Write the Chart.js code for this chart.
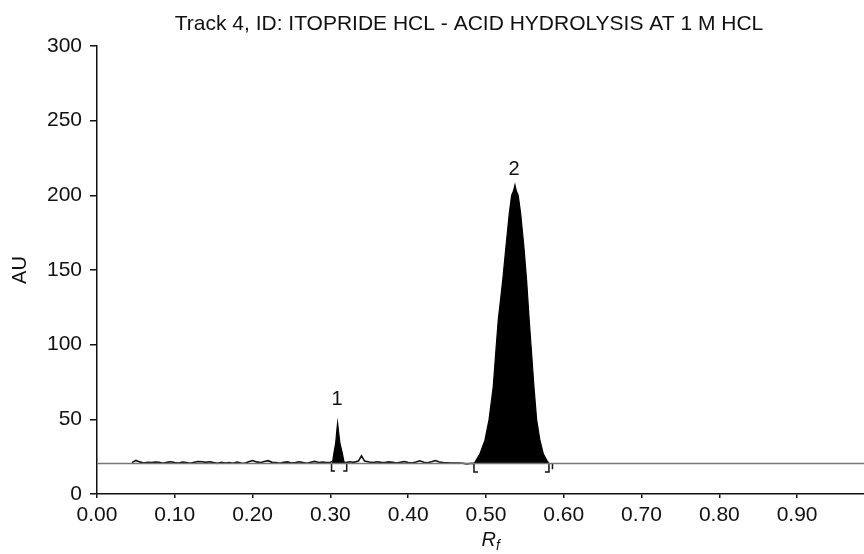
<!DOCTYPE html>
<html>
<head>
<meta charset="utf-8">
<script src="https://cdn.jsdelivr.net/npm/chart.js@4.4.0/dist/chart.umd.min.js"></script>
<style>
    html, body { margin: 0; padding: 0; background: #fff; }
    #wrap { width: 864px; height: 554px; }
</style>
</head>
<body>
<div id="wrap"><canvas id="Graph" width="864" height="554"></canvas></div>
<script>
const chartTitle = 'Track 4, ID: ITOPRIDE HCL - ACID HYDROLYSIS AT 1 M HCL';
const yTicks = [0, 50, 100, 150, 200, 250, 300];
const xTicks = [0.00, 0.10, 0.20, 0.30, 0.40, 0.50, 0.60, 0.70, 0.80, 0.90];

// flat baseline
const baseRf = [0, 0.986];
const baseAU = [20.5, 20.5];

// noisy trace before peak 1
const traceARf = [0.045, 0.050, 0.055, 0.060, 0.065, 0.070, 0.075, 0.080, 0.085, 0.090, 0.095, 0.100, 0.105, 0.110, 0.115, 0.120, 0.125, 0.130, 0.135, 0.140, 0.145, 0.150, 0.155, 0.160, 0.165, 0.170, 0.175, 0.180, 0.185, 0.190, 0.195, 0.200, 0.205, 0.210, 0.215, 0.220, 0.225, 0.230, 0.235, 0.240, 0.245, 0.250, 0.255, 0.260, 0.265, 0.270, 0.275, 0.280, 0.285, 0.290, 0.295, 0.300, 0.303];
const traceAAU = [21.0, 22.5, 21.5, 20.8, 21.3, 21.0, 21.4, 21.2, 20.6, 21.2, 21.6, 21.0, 20.7, 21.4, 21.0, 20.6, 21.3, 21.8, 21.6, 21.2, 21.6, 21.0, 20.5, 21.2, 20.8, 21.0, 20.6, 21.4, 20.8, 20.6, 21.6, 22.4, 21.5, 21.0, 21.8, 22.3, 21.2, 21.0, 20.6, 21.2, 21.5, 20.8, 21.0, 21.6, 21.0, 20.6, 21.2, 21.8, 21.1, 21.4, 21.0, 21.3, 21.9];

// peak 1
const peak1Rf = [0.3025, 0.303, 0.3046, 0.3068, 0.3082, 0.3093, 0.3105, 0.3123, 0.3153, 0.3175];
const peak1AU = [20.5, 21.9, 27.5, 34, 42, 47.5, 42, 34, 27.5, 21.5];

// noisy trace between the peaks
const traceBRf = [0.3175, 0.320, 0.325, 0.330, 0.336, 0.340, 0.344, 0.350, 0.355, 0.360, 0.365, 0.370, 0.375, 0.380, 0.385, 0.390, 0.395, 0.400, 0.405, 0.410, 0.415, 0.420, 0.425, 0.430, 0.435, 0.440, 0.445, 0.450, 0.455, 0.460, 0.465, 0.470, 0.475, 0.480, 0.485];
const traceBAU = [21.5, 21.0, 21.6, 21.2, 22.0, 25.5, 22.0, 21.4, 21.0, 21.6, 21.2, 21.0, 21.5, 21.3, 20.8, 21.3, 21.7, 21.0, 20.7, 21.4, 22.2, 21.2, 20.9, 21.6, 22.4, 21.4, 21.0, 20.9, 20.8, 20.8, 20.7, 20.6, 20.2, 20.4, 20.5];

// peak 2
const peak2Rf = [0.485, 0.4923, 0.4987, 0.5039, 0.5094, 0.5125, 0.5158, 0.5215, 0.5257, 0.530, 0.533, 0.5355, 0.5373, 0.539, 0.5415, 0.5446, 0.5488, 0.5523, 0.5556, 0.5587, 0.5617, 0.5652, 0.5694, 0.5737, 0.5793, 0.581];
const peak2AU = [20.5, 27, 36, 49.6, 72, 94, 116.5, 143, 165.6, 188, 200, 203, 207, 203, 200, 188, 165.6, 143, 116.5, 94, 72, 49.6, 36, 27, 21.6, 20.5];

// integration brackets
const bracketRf = [0.3015, 0.3015, 0.306, null, 0.3165, 0.321, 0.321, null, 0.4846, 0.4846, 0.4897, null, 0.5758, 0.581, 0.581, null, 0.5855, 0.5855];
const bracketAU = [20.5, 15.4, 15.4, null, 15.4, 15.4, 20.5, null, 20.5, 14.7, 14.7, null, 14.7, 14.7, 20.5, null, 20.5, 16.5];

const peakLabels = ['1', '2'];
const peakLabelRf = [0.3085, 0.536];
const peakLabelAU = [63.6, 217];

function toPoints(xs, ys) {
    return xs.map((x, i) => ({ x: x, y: ys[i] }));
}

const FONT = "'Liberation Sans', Arial, sans-serif";

const extraText = {
    id: 'extraText',
    afterDraw(chart) {
        const ctx = chart.ctx;
        const xs = chart.scales.x;
        const ys = chart.scales.y;
        ctx.save();
        ctx.fillStyle = '#111';
        ctx.textBaseline = 'middle';
        ctx.textAlign = 'center';
        ctx.font = '21px ' + FONT;
        ctx.fillText(chartTitle, 469, 24);

        ctx.font = '20px ' + FONT;
        peakLabels.forEach((lbl, i) => {
            ctx.fillText(lbl, xs.getPixelForValue(peakLabelRf[i]), ys.getPixelForValue(peakLabelAU[i]));
        });

        ctx.textAlign = 'right';
        ctx.font = 'italic 20px ' + FONT;
        ctx.fillText('R', 496, 540);
        ctx.textAlign = 'left';
        ctx.font = 'italic 14px ' + FONT;
        ctx.fillText('f', 496, 546);
        ctx.restore();
    }
};

const ctx = document.getElementById('Graph').getContext('2d');

new Chart(ctx, {
    type: 'line',
    data: {
        datasets: [
            { data: toPoints(baseRf, baseAU), borderColor: '#777', borderWidth: 1.5, pointRadius: 0, fill: false },
            { data: toPoints(traceARf, traceAAU), borderColor: '#111', borderWidth: 1.6, pointRadius: 0, fill: false },
            { data: toPoints(traceBRf, traceBAU), borderColor: '#111', borderWidth: 1.6, pointRadius: 0, fill: false },
            { data: toPoints(peak1Rf, peak1AU), borderColor: '#000', backgroundColor: '#000', borderWidth: 1.2, pointRadius: 0, fill: { value: 20.5 } },
            { data: toPoints(peak2Rf, peak2AU), borderColor: '#000', backgroundColor: '#000', borderWidth: 1.2, pointRadius: 0, fill: { value: 20.5 } },
            { data: toPoints(bracketRf, bracketAU), borderColor: '#111', borderWidth: 1.5, pointRadius: 0, fill: false, spanGaps: false }
        ]
    },
    options: {
        responsive: false,
        animation: false,
        layout: { padding: { top: 46, right: 0, left: 0, bottom: 0 } },
        plugins: {
            legend: { display: false },
            tooltip: { enabled: false }
        },
        scales: {
            x: {
                type: 'linear',
                min: 0,
                max: 0.986,
                afterBuildTicks: scale => { scale.ticks = xTicks.map(v => ({ value: v })); },
                afterFit: scale => { scale.height = 60; },
                border: { display: true, color: '#111', width: 1.5 },
                grid: { display: true, drawOnChartArea: false, drawTicks: true, tickLength: 4, color: '#111', lineWidth: 1.5 },
                ticks: {
                    padding: 5,
                    color: '#111',
                    font: { family: FONT, size: 21 },
                    maxRotation: 0,
                    callback: v => v.toFixed(2)
                }
            },
            y: {
                min: 0,
                max: 300,
                afterBuildTicks: scale => { scale.ticks = yTicks.map(v => ({ value: v })); },
                afterFit: scale => { scale.width = 97; },
                border: { display: true, color: '#111', width: 1.5 },
                grid: { display: true, drawOnChartArea: false, drawTicks: true, tickLength: 7, color: '#111', lineWidth: 1.5 },
                ticks: {
                    padding: 8,
                    color: '#111',
                    font: { family: FONT, size: 21 }
                },
                title: {
                    display: true,
                    text: 'AU',
                    color: '#111',
                    font: { family: FONT, size: 20 },
                    padding: { top: 8, bottom: 0 }
                }
            }
        }
    },
    plugins: [extraText]
});
</script>
</body>
</html>
